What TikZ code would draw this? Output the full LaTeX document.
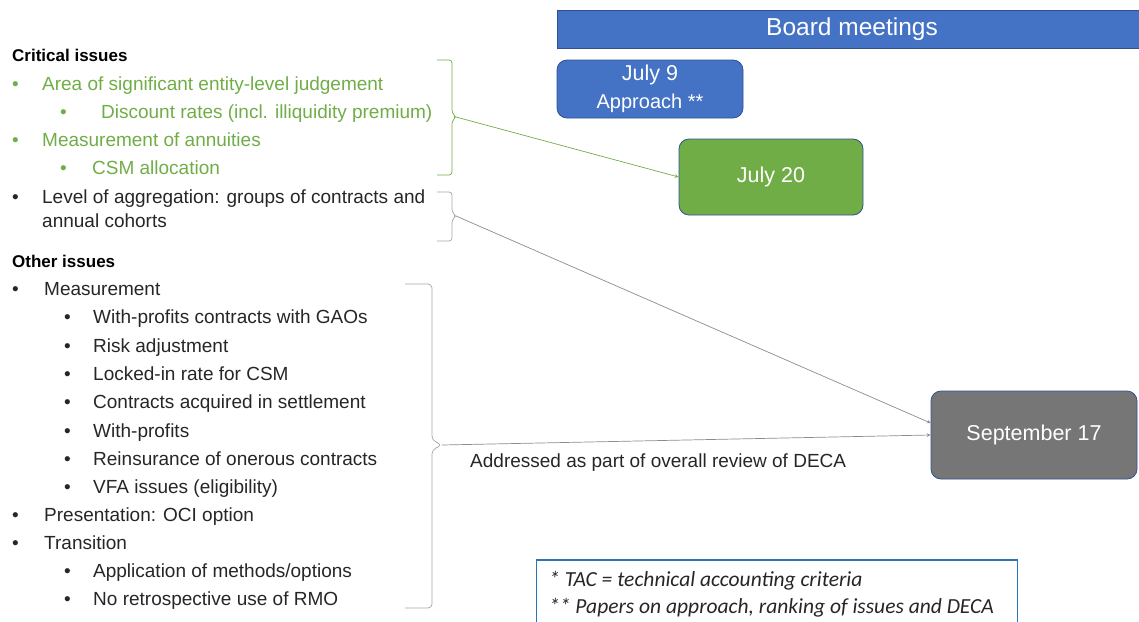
\documentclass[tikz,border=0pt]{standalone}
\usepackage{fontspec}
\setmainfont{Liberation Sans}
\newfontfamily\notefont{Carlito}
\definecolor{boardblue}{HTML}{4472C4}
\definecolor{boxedge}{HTML}{2F528F}
\definecolor{critgreen}{HTML}{70AD47}
\definecolor{septgray}{HTML}{767676}
\definecolor{bracegray}{HTML}{A6A6A6}
\definecolor{linkgray}{HTML}{8C8C8C}
\definecolor{noteblue}{HTML}{2E75B6}
\newcommand\bulletbox[1]{\makebox[#1][l]{\textbullet}}
\tikzset{
  heading/.style={anchor=west, inner sep=0pt, font=\fontsize{17}{20}\selectfont\bfseries, text height=13pt, text depth=0pt},
  entry/.style={anchor=west, inner sep=0pt, font=\fontsize{19}{22}\selectfont, text height=13pt, text depth=0pt, text=black!85},
  meeting/.style={draw=boxedge, line width=0.8pt, rounded corners=10pt, text=white, align=center, font=\fontsize{21.5}{27}\selectfont},
  link/.style={->, line width=0.7pt},
}
\begin{document}
\begin{tikzpicture}[x=1pt, y=-1pt, >=stealth]
  % 1. Links: issue lists on the left, board meetings on the right.
  % 2. Braces group the issues and lead to the meeting dates.
  \clip (0,0) rectangle (1139,621);
  \useasboundingbox (0,0) rectangle (1139,621);

  \node[heading] (crit) at (12,55) {Critical issues};
  \node[entry, text=critgreen] (judg) at (12,84) {\bulletbox{30pt}Area of significant entity-level judgement};
  \node[entry, text=critgreen] (disc) at (60,112) {\bulletbox{41pt}Discount rates (incl. illiquidity premium)};
  \node[entry, text=critgreen] (annu) at (12,140) {\bulletbox{30pt}Measurement of annuities};
  \node[entry, text=critgreen] (csm) at (60,168) {\bulletbox{32pt}CSM allocation};
  \node[entry] (aggr) at (12,197) {\bulletbox{30pt}Level of aggregation: groups of contracts and};
  \node[entry] (coho) at (42,221) {annual cohorts};

  \node[heading] (other) at (12,261) {Other issues};
  \node[entry] (meas) at (12,289) {\bulletbox{32pt}Measurement};
  \foreach \txt [count=\i] in {With-profits contracts with GAOs, Risk adjustment,
      Locked-in rate for CSM, Contracts acquired in settlement, With-profits,
      Reinsurance of onerous contracts, VFA issues (eligibility)}
    \node[entry] (meas\i) at (64,289+28.3*\i) {\bulletbox{29pt}\txt};
  \node[entry] (pres) at (12,515) {\bulletbox{32pt}Presentation: OCI option};
  \node[entry] (tran) at (12,543) {\bulletbox{32pt}Transition};
  \node[entry] (tran1) at (64,571) {\bulletbox{29pt}Application of methods/options};
  \node[entry] (tran2) at (64,599) {\bulletbox{29pt}No retrospective use of RMO};

  % braces
  \draw[critgreen, line width=0.7pt, rounded corners=3pt]
    (437,60) -- (452,60) -- (452,113) -- (456,117) -- (452,121) -- (452,175) -- (437,175);
  \coordinate (critTip) at (456,117);
  \draw[bracegray, line width=0.7pt, rounded corners=3pt]
    (437,192) -- (452,192) -- (452,212) -- (456,216) -- (452,220) -- (452,241) -- (437,241);
  \coordinate (aggrTip) at (456,216);
  \draw[bracegray, line width=0.7pt, rounded corners=4pt]
    (405,284) -- (432,284) -- (432,440) -- (442,445) -- (432,450) -- (432,608) -- (405,608);
  \coordinate (otherTip) at (442,445);

  % board meetings
  \node[draw=boxedge, fill=boardblue, line width=0.6pt, text=white, minimum width=590pt, minimum height=38pt,
    font=\fontsize{24.5}{28}\selectfont] (board) at (852,29) {Board meetings};
  \node[meeting, fill=boardblue, minimum width=186pt, minimum height=58pt] (jul9) at (650,89)
    {July 9\\[1pt]\fontsize{20}{24}\selectfont Approach **};
  \node[meeting, fill=critgreen, minimum width=184pt, minimum height=76pt] (jul20) at (771,177) {July 20};
  \node[meeting, fill=septgray, minimum width=206pt, minimum height=88pt] (sep17) at (1034,435) {September 17};

  \draw[link, critgreen] (critTip) -- (jul20.west);
  \draw[link, linkgray] (aggrTip) -- ([yshift=12pt]sep17.west);
  \draw[link, linkgray] (otherTip) -- (sep17.west);
  \node[entry] (deca) at (470,461) {Addressed as part of overall review of DECA};

  % footnote box
  \node[draw=noteblue, line width=1.8pt, minimum width=481pt, minimum height=90pt] (note) at (777,605) {};
  \node[entry, font=\notefont\itshape\fontsize{21.5}{24}\selectfont] (note1) at (549,580) {* TAC = technical accounting criteria};
  \node[entry, font=\notefont\itshape\fontsize{21.5}{24}\selectfont] (note2) at (549,607) {** Papers on approach, ranking of issues and DECA};
\end{tikzpicture}
\end{document}
